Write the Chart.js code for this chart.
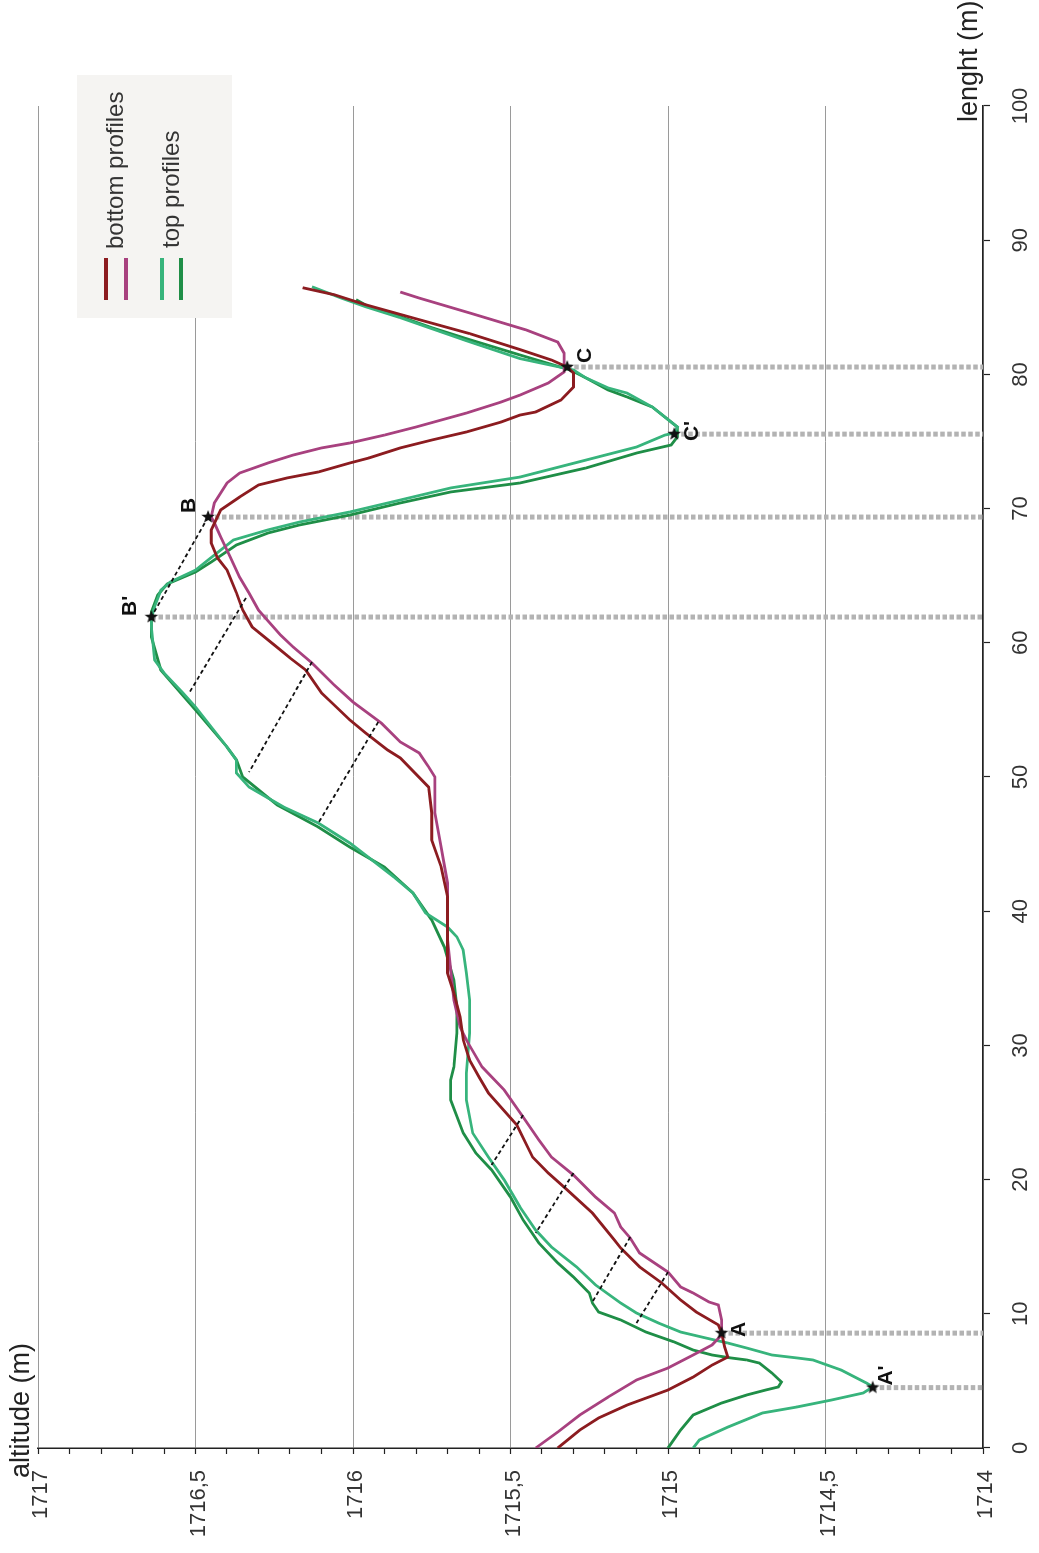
<!DOCTYPE html>
<html>
<head>
<meta charset="utf-8">
<script src="https://cdn.jsdelivr.net/npm/chart.js@4.4.1/dist/chart.umd.min.js"></script>
<style>
  html, body { margin: 0; padding: 0; background: #fff; overflow: hidden; }
  /* the figure is drawn landscape and turned a quarter turn, like the original */
  #wrap { position: absolute; left: 0; top: 0; width: 1553px; height: 1039px;
          transform-origin: 0 0; transform: translateY(1553px) rotate(-90deg); }
  #chart { display: block; }
</style>
</head>
<body>
<div id="wrap"><canvas id="chart" width="1553" height="1039"></canvas></div>
<script>
// bottom profile 1 (dark red)
var bottom1Len = [0, 1.34, 2.24, 3.20, 4.32, 5.29, 6.18, 6.78, 7.53, 8.57, 9.17, 10.13, 11.03, 12.30, 13.49, 14.90, 15.50, 17.51, 19.23, 20.49, 21.68, 24.07, 26.45, 27.65, 28.91, 30.40, 32.12, 33.90, 35.40, 37.85, 41.06, 43.29, 45.31, 47.32, 49.25, 51.42, 52.01, 53.28, 54.25, 55.37, 56.26, 57.97, 58.87, 59.84, 61.18, 62.44, 63.71, 65.42, 66.32, 67.44, 68.40, 69.90, 70.86, 71.76, 72.28, 72.73, 73.40, 73.77, 74.52, 75.11, 75.71, 76.45, 76.97, 77.20, 78.09, 79.06, 80.10, 80.55, 81.07, 81.85, 83.04, 84.08, 85.19, 85.94, 86.46];
var bottom1Alt = [1715.35, 1715.28, 1715.22, 1715.13, 1715.00, 1714.92, 1714.86, 1714.81, 1714.82, 1714.83, 1714.84, 1714.91, 1714.96, 1715.02, 1715.09, 1715.15, 1715.17, 1715.24, 1715.32, 1715.38, 1715.43, 1715.48, 1715.57, 1715.60, 1715.63, 1715.65, 1715.66, 1715.68, 1715.70, 1715.70, 1715.70, 1715.72, 1715.75, 1715.75, 1715.76, 1715.85, 1715.89, 1715.96, 1716.01, 1716.06, 1716.10, 1716.15, 1716.20, 1716.25, 1716.32, 1716.35, 1716.37, 1716.40, 1716.43, 1716.45, 1716.45, 1716.42, 1716.36, 1716.30, 1716.21, 1716.11, 1716.01, 1715.95, 1715.85, 1715.75, 1715.64, 1715.53, 1715.47, 1715.42, 1715.34, 1715.30, 1715.30, 1715.32, 1715.37, 1715.47, 1715.63, 1715.79, 1715.96, 1716.06, 1716.16];

// bottom profile 2 (purple)
var bottom2Len = [0, 1.19, 2.46, 3.80, 5.07, 5.96, 6.93, 7.68, 8.42, 9.54, 10.66, 10.88, 11.55, 12.00, 13.11, 14.53, 15.65, 16.47, 17.51, 18.70, 20.34, 21.68, 22.95, 24.66, 26.68, 28.39, 30.40, 31.37, 33.38, 37.85, 42.10, 44.78, 47.32, 50.00, 50.75, 51.79, 52.61, 54.02, 55.59, 56.86, 58.49, 59.69, 60.58, 62.44, 63.71, 64.90, 66.39, 67.88, 68.93, 69.37, 70.42, 71.91, 72.65, 73.40, 73.99, 74.52, 74.89, 75.48, 76.08, 77.12, 77.94, 78.46, 79.36, 80.18, 81.59, 82.41, 83.31, 84.58, 85.69, 86.14];
var bottom2Alt = [1715.42, 1715.35, 1715.28, 1715.19, 1715.10, 1715.00, 1714.92, 1714.86, 1714.83, 1714.83, 1714.84, 1714.87, 1714.92, 1714.96, 1715.00, 1715.09, 1715.12, 1715.15, 1715.17, 1715.23, 1715.30, 1715.37, 1715.41, 1715.46, 1715.52, 1715.59, 1715.64, 1715.66, 1715.68, 1715.70, 1715.70, 1715.72, 1715.74, 1715.74, 1715.76, 1715.79, 1715.85, 1715.91, 1716.00, 1716.06, 1716.13, 1716.19, 1716.23, 1716.30, 1716.33, 1716.36, 1716.39, 1716.42, 1716.44, 1716.45, 1716.44, 1716.40, 1716.36, 1716.27, 1716.19, 1716.10, 1716.01, 1715.90, 1715.80, 1715.64, 1715.53, 1715.47, 1715.38, 1715.33, 1715.33, 1715.35, 1715.45, 1715.63, 1715.79, 1715.85];

// top profile 1 (light green)
var top1Len = [0, 0.60, 1.56, 2.61, 3.06, 3.58, 4.10, 4.55, 4.84, 5.81, 6.56, 6.71, 6.93, 7.45, 7.82, 8.20, 8.64, 9.31, 10.06, 10.80, 12.15, 13.49, 14.98, 16.24, 17.96, 19.97, 21.68, 23.47, 25.93, 27.94, 30.92, 33.38, 35.40, 37.11, 38.08, 38.82, 39.87, 41.36, 42.55, 43.82, 45.08, 46.57, 47.76, 49.25, 50.30, 51.27, 52.24, 53.73, 55.22, 56.26, 57.75, 58.72, 61.18, 61.85, 62.67, 63.93, 64.53, 65.42, 66.17, 67.66, 68.41, 69.00, 69.75, 70.64, 71.54, 72.35, 73.62, 74.59, 75.48, 75.63, 76.08, 77.57, 78.61, 78.99, 79.73, 80.33, 81.18, 82.51, 83.41, 84.23, 85.04, 85.71, 86.53];
var top1Alt = [1714.92, 1714.90, 1714.81, 1714.70, 1714.59, 1714.48, 1714.38, 1714.35, 1714.37, 1714.45, 1714.54, 1714.59, 1714.67, 1714.75, 1714.81, 1714.88, 1714.96, 1715.03, 1715.10, 1715.15, 1715.23, 1715.29, 1715.37, 1715.42, 1715.47, 1715.52, 1715.57, 1715.62, 1715.64, 1715.64, 1715.63, 1715.63, 1715.64, 1715.65, 1715.67, 1715.70, 1715.77, 1715.81, 1715.87, 1715.94, 1716.01, 1716.11, 1716.22, 1716.33, 1716.37, 1716.37, 1716.40, 1716.45, 1716.50, 1716.54, 1716.60, 1716.63, 1716.64, 1716.64, 1716.63, 1716.61, 1716.58, 1716.50, 1716.46, 1716.38, 1716.27, 1716.17, 1716.01, 1715.85, 1715.69, 1715.47, 1715.26, 1715.10, 1715.01, 1714.98, 1714.97, 1715.05, 1715.13, 1715.19, 1715.26, 1715.30, 1715.47, 1715.64, 1715.75, 1715.85, 1715.96, 1716.04, 1716.13];

// top profile 2 (dark green)
var top2Len = [0, 1.34, 2.46, 3.35, 3.95, 4.32, 4.55, 4.92, 5.59, 6.33, 6.56, 6.71, 6.93, 7.30, 7.90, 8.64, 9.54, 10.13, 10.80, 11.55, 12.74, 13.79, 15.28, 16.99, 18.70, 20.72, 21.98, 23.47, 25.93, 27.42, 28.39, 30.92, 32.86, 34.87, 37.33, 39.34, 41.36, 43.29, 44.78, 46.27, 47.91, 50.00, 51.27, 52.24, 54.99, 57.97, 60.43, 61.33, 62.30, 63.56, 64.38, 65.28, 66.02, 67.29, 68.18, 68.78, 69.52, 70.42, 71.24, 71.91, 73.03, 74.14, 74.74, 75.34, 76.08, 77.57, 78.32, 78.84, 79.73, 80.33, 81.45, 82.59, 83.48, 84.30, 85.04, 85.57];
var top2Alt = [1715.00, 1714.96, 1714.92, 1714.83, 1714.75, 1714.69, 1714.65, 1714.64, 1714.67, 1714.71, 1714.75, 1714.80, 1714.86, 1714.92, 1714.98, 1715.07, 1715.15, 1715.22, 1715.24, 1715.25, 1715.30, 1715.35, 1715.41, 1715.46, 1715.50, 1715.56, 1715.61, 1715.65, 1715.69, 1715.69, 1715.68, 1715.67, 1715.67, 1715.68, 1715.71, 1715.75, 1715.81, 1715.90, 1716.01, 1716.11, 1716.24, 1716.35, 1716.37, 1716.40, 1716.50, 1716.61, 1716.64, 1716.64, 1716.64, 1716.62, 1716.59, 1716.50, 1716.45, 1716.37, 1716.27, 1716.17, 1716.01, 1715.85, 1715.69, 1715.47, 1715.26, 1715.10, 1714.99, 1714.97, 1714.97, 1715.05, 1715.13, 1715.19, 1715.26, 1715.31, 1715.47, 1715.63, 1715.75, 1715.85, 1715.95, 1715.99];

// marked points
var markerNames = ['A', "A'", 'B', "B'", 'C', "C'"];
var markerLen = [8.56, 4.50, 69.37, 61.92, 80.55, 75.55];
var markerAlt = [1714.83, 1714.35, 1716.46, 1716.64, 1715.32, 1714.98];

// dashed links between top and bottom profiles
var tieFromLen = [69.37, 63.34, 58.57, 54.10, 24.81, 20.49, 15.72, 13.11];
var tieFromAlt = [1716.46, 1716.34, 1716.13, 1715.92, 1715.46, 1715.30, 1715.12, 1715.00];
var tieToLen = [61.92, 56.26, 50.37, 46.57, 21.09, 16.02, 10.88, 9.31];
var tieToAlt = [1716.64, 1716.52, 1716.33, 1716.11, 1715.56, 1715.42, 1715.24, 1715.10];

// axes
var lenTicks = [0, 10, 20, 30, 40, 50, 60, 70, 80, 90, 100];
var altMajor = [1714, 1714.5, 1715, 1715.5, 1716, 1716.5, 1717];
var altLabels = ['1714', '1714,5', '1715', '1715,5', '1716', '1716,5', '1717'];
var legendLabels = ['bottom profiles', 'top profiles'];

var FONT = '"Liberation Sans", Arial, sans-serif';
var colors = { bottom1: '#8c1c20', bottom2: '#a8417f', top1: '#37b47c', top2: '#1f8e47' };

function pts(xs, ys) {
    return xs.map(function (x, i) { return { x: x, y: ys[i] }; });
}

function isMajor(v) {
    return altMajor.some(function (m) { return Math.abs(m - v) < 1e-6; });
}

function makeStar(r) {
    var c = document.createElement('canvas');
    var s = Math.ceil(r * 2 + 2);
    c.width = s; c.height = s;
    var g = c.getContext('2d');
    g.translate(s / 2, s / 2);
    g.beginPath();
    for (var i = 0; i < 10; i++) {
        var rad = i % 2 === 0 ? r : r * 0.42;
        var a = i * Math.PI / 5;   // tip towards +x, i.e. upward once turned
        g.lineTo(Math.cos(a) * rad, Math.sin(a) * rad);
    }
    g.closePath();
    g.fillStyle = '#111';
    g.fill();
    return c;
}

function profile(label, xs, ys, color) {
    return {
        label: label, data: pts(xs, ys), borderColor: color, borderWidth: 2.8,
        pointRadius: 0, fill: false, tension: 0, order: 1
    };
}

var datasets = [];

// grey dotted drops from the marked points to the axis
markerLen.forEach(function (l, i) {
    datasets.push({
        data: [{ x: l, y: markerAlt[i] }, { x: l, y: 1714 }],
        borderColor: '#b3b3b3', borderWidth: 5, borderDash: [4.5, 2.5],
        borderCapStyle: 'butt', pointRadius: 0, order: 3
    });
});

datasets.push(profile('bottom profile 1', bottom1Len, bottom1Alt, colors.bottom1));
datasets.push(profile('bottom profile 2', bottom2Len, bottom2Alt, colors.bottom2));
datasets.push(profile('top profile 1', top1Len, top1Alt, colors.top1));
datasets.push(profile('top profile 2', top2Len, top2Alt, colors.top2));

tieFromLen.forEach(function (l, i) {
    datasets.push({
        data: [{ x: l, y: tieFromAlt[i] }, { x: tieToLen[i], y: tieToAlt[i] }],
        borderColor: '#111', borderWidth: 1.8, borderDash: [4, 3],
        pointRadius: 0, order: 0
    });
});

datasets.push({
    data: pts(markerLen, markerAlt), showLine: false,
    pointStyle: makeStar(7), pointRadius: 6, order: -1
});

// marker letters, axis titles and the two-row legend
var labelDx = [-4, 2, 4, 1, 4, -7];
var labelDy = [18, 13, -19, -21, 18, 18];

var overlay = {
    id: 'overlay',
    afterDraw: function (chart) {
        var ctx = chart.ctx;
        var xs = chart.scales.x, ys = chart.scales.y;
        ctx.save();

        ctx.font = 'bold 21px ' + FONT;
        ctx.fillStyle = '#111';
        ctx.textAlign = 'left';
        ctx.textBaseline = 'middle';
        markerNames.forEach(function (n, i) {
            ctx.fillText(n, xs.getPixelForValue(markerLen[i]) + labelDx[i],
                ys.getPixelForValue(markerAlt[i]) + labelDy[i]);
        });

        ctx.font = '27px ' + FONT;
        ctx.fillStyle = '#222';
        ctx.textBaseline = 'alphabetic';
        ctx.fillText('altitude (m)', 75, 29);
        ctx.fillText('lenght (m)', 1431, 977);

        ctx.fillStyle = '#f5f4f2';
        ctx.fillRect(1235, 77, 243, 155);
        var swatches = [[colors.bottom1, colors.bottom2], [colors.top1, colors.top2]];
        var rowV = [[106, 126], [162, 181]];
        ctx.lineWidth = 4;
        swatches.forEach(function (pair, r) {
            pair.forEach(function (c, k) {
                ctx.strokeStyle = c;
                ctx.beginPath();
                ctx.moveTo(1253, rowV[r][k]);
                ctx.lineTo(1295, rowV[r][k]);
                ctx.stroke();
            });
        });
        ctx.font = '24px ' + FONT;
        ctx.fillStyle = '#333';
        ctx.fillText(legendLabels[0], 1304, 123);
        ctx.fillText(legendLabels[1], 1305, 179);
        ctx.restore();
    }
};

new Chart(document.getElementById('chart'), {
    type: 'line',
    data: { datasets: datasets },
    options: {
        responsive: false,
        animation: false,
        devicePixelRatio: 1,
        events: [],
        layout: { padding: { top: 38, right: 106, bottom: 0, left: 0 } },
        plugins: { legend: { display: false }, tooltip: { enabled: false } },
        scales: {
            x: {
                type: 'linear', min: 0, max: 100,
                afterFit: function (s) { s.height = 56; },
                afterBuildTicks: function (s) { s.ticks = lenTicks.map(function (v) { return { value: v }; }); },
                ticks: { font: { family: FONT, size: 22 }, color: '#333', padding: 18, maxRotation: 0, autoSkip: false },
                grid: { drawOnChartArea: false, tickLength: 7, tickColor: '#222', tickWidth: 1.2 },
                border: { color: '#222', width: 1.5 }
            },
            y: {
                type: 'linear', min: 1714, max: 1717,
                afterFit: function (s) { s.width = 105; },
                ticks: {
                    stepSize: 0.1, autoSkip: false, padding: 16, labelOffset: 3,
                    font: { family: FONT, size: 22 }, color: '#333',
                    callback: function (v) {
                        var i = altMajor.findIndex(function (m) { return Math.abs(m - v) < 1e-6; });
                        return i >= 0 ? altLabels[i] : '';
                    }
                },
                grid: {
                    color: function (c) { return c.tick && isMajor(c.tick.value) ? '#9a9a9a' : 'rgba(0,0,0,0)'; },
                    lineWidth: 1, tickLength: 6, tickColor: '#222', tickWidth: 1.2
                },
                border: { color: '#222', width: 1.5 }
            }
        }
    },
    plugins: [overlay]
});
</script>
</body>
</html>
